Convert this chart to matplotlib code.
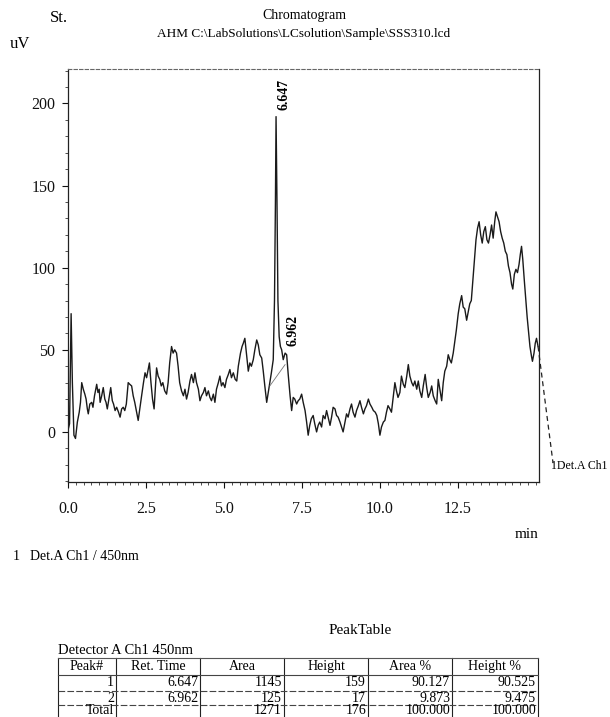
import numpy as np
import matplotlib
matplotlib.use("Agg")
import matplotlib.pyplot as plt
from matplotlib.lines import Line2D
from matplotlib.ticker import MultipleLocator

# ---------------- data ----------------
time_min = [0.00, 0.05, 0.10, 0.14, 0.19, 0.24, 0.30, 0.36, 0.40, 0.44, 0.49, 0.54, 0.58, 0.62, 0.65,
            0.70, 0.76, 0.80, 0.85, 0.92, 0.96, 1.00, 1.03, 1.08, 1.13, 1.18, 1.22, 1.26, 1.31, 1.37,
            1.42, 1.46, 1.51, 1.56, 1.62, 1.67, 1.72, 1.77, 1.82, 1.87, 1.93, 1.98, 2.04, 2.09, 2.14,
            2.20, 2.25, 2.30, 2.36, 2.42, 2.47, 2.52, 2.57, 2.61, 2.66, 2.71, 2.76, 2.80, 2.84, 2.89,
            2.94, 2.99, 3.04, 3.10, 3.16, 3.21, 3.26, 3.32, 3.37, 3.42, 3.48, 3.53, 3.58, 3.64, 3.70,
            3.75, 3.80, 3.85, 3.91, 3.96, 4.02, 4.07, 4.12, 4.18, 4.23, 4.28, 4.34, 4.39, 4.44, 4.50,
            4.55, 4.60, 4.66, 4.71, 4.76, 4.82, 4.87, 4.92, 4.97, 5.03, 5.08, 5.14, 5.19, 5.24, 5.30,
            5.36, 5.41, 5.46, 5.53, 5.58, 5.62, 5.67, 5.72, 5.78, 5.83, 5.88, 5.94, 5.99, 6.05, 6.10,
            6.15, 6.21, 6.26, 6.31, 6.37, 6.42, 6.47, 6.52, 6.58, 6.62, 6.65, 6.67, 6.70, 6.73, 6.77,
            6.81, 6.85, 6.90, 6.96, 7.01, 7.06, 7.12, 7.17, 7.22, 7.27, 7.33, 7.38, 7.43, 7.49, 7.54,
            7.60, 7.65, 7.70, 7.75, 7.80, 7.86, 7.91, 7.97, 8.02, 8.07, 8.13, 8.18, 8.24, 8.29, 8.34,
            8.40, 8.45, 8.50, 8.56, 8.61, 8.66, 8.72, 8.77, 8.82, 8.88, 8.93, 8.98, 9.04, 9.09, 9.14,
            9.20, 9.25, 9.31, 9.36, 9.41, 9.47, 9.52, 9.57, 9.63, 9.68, 9.74, 9.79, 9.85, 9.90, 9.95,
            10.00, 10.05, 10.11, 10.16, 10.21, 10.26, 10.32, 10.37, 10.42, 10.48, 10.53, 10.58, 10.64, 10.69, 10.75,
            10.80, 10.86, 10.91, 10.96, 11.02, 11.07, 11.12, 11.18, 11.23, 11.28, 11.34, 11.39, 11.45, 11.50, 11.55,
            11.61, 11.66, 11.71, 11.77, 11.82, 11.87, 11.93, 11.98, 12.03, 12.08, 12.14, 12.19, 12.24, 12.29, 12.35,
            12.40, 12.45, 12.51, 12.56, 12.62, 12.67, 12.72, 12.78, 12.83, 12.88, 12.93, 12.99, 13.04, 13.08, 13.13,
            13.18, 13.23, 13.28, 13.33, 13.38, 13.43, 13.48, 13.53, 13.58, 13.63, 13.68, 13.72, 13.77, 13.82, 13.87,
            13.92, 13.97, 14.02, 14.07, 14.12, 14.17, 14.22, 14.26, 14.31, 14.36, 14.41, 14.46, 14.50, 14.54, 14.58,
            14.63, 14.68, 14.72, 14.77, 14.81, 14.86, 14.89, 14.94, 14.98, 15.02, 15.07]
signal_uv = [1, 5, 72, 30, -2, -4, 6, 12, 18, 30, 26, 23, 20, 14, 11,
             17, 18, 15, 22, 29, 24, 26, 18, 22, 27, 20, 18, 14, 20, 27,
             19, 17, 13, 15, 12, 9, 14, 15, 13, 17, 30, 29, 28, 22, 18,
             12, 7, 14, 22, 30, 36, 33, 38, 42, 30, 20, 14, 26, 39, 34,
             32, 28, 30, 25, 23, 30, 42, 52, 48, 50, 48, 40, 30, 25, 22,
             26, 20, 24, 31, 35, 30, 36, 30, 26, 19, 22, 24, 27, 22, 25,
             21, 19, 23, 18, 26, 30, 34, 28, 30, 27, 32, 35, 38, 33, 36,
             32, 31, 40, 48, 52, 54, 57, 48, 37, 42, 40, 44, 50, 56, 53,
             47, 45, 37, 28, 18, 24, 30, 36, 44, 80, 140, 192, 140, 80, 58,
             52, 50, 44, 48, 47, 35, 22, 13, 21, 20, 17, 19, 20, 23, 18,
             13, 6, -2, 4, 8, 10, 5, 0, 4, 6, 3, 10, 8, 13, 9,
             4, 9, 15, 14, 10, 9, 6, 3, 0, 6, 11, 9, 14, 17, 12,
             9, 13, 16, 19, 15, 11, 14, 16, 20, 17, 15, 13, 12, 10, 5,
             -2, 3, 6, 7, 12, 16, 14, 12, 20, 30, 25, 21, 24, 34, 29,
             27, 34, 41, 34, 30, 28, 31, 26, 31, 25, 21, 28, 35, 27, 21,
             24, 28, 22, 19, 17, 32, 25, 19, 30, 37, 40, 47, 44, 42, 48,
             55, 62, 72, 78, 83, 76, 75, 68, 73, 78, 80, 95, 108, 117, 124,
             128, 120, 115, 122, 125, 117, 115, 120, 126, 118, 128, 134, 131, 128, 122,
             118, 115, 110, 108, 101, 97, 90, 87, 96, 99, 97, 102, 108, 113, 105,
             92, 80, 70, 60, 52, 46, 43, 48, 54, 57, 52]

# trace continuation past the end of the window (dashed)
tail_time = [15.07, 15.55]
tail_uv = [52, -19]

# integration baseline under peak 1
baseline_time = [6.47, 6.96]
baseline_uv = [28, 41]

peak_no = ["1", "2"]
ret_time = [6.647, 6.962]
peak_area = [1145, 125]
peak_height = [159, 17]
area_pct = [90.127, 9.873]
height_pct = [90.525, 9.475]
total_area = 1271
total_height = 176
total_pct = 100.000

x_ticks = [0.0, 2.5, 5.0, 7.5, 10.0, 12.5]
y_ticks = [0, 50, 100, 150, 200]

# ---------------- figure ----------------
W, H = 610, 717
plt.rcParams['font.family'] = ['Liberation Serif', 'DejaVu Serif']
fig = plt.figure(figsize=(W / 100, H / 100), dpi=100)


def fx(px):
    return px / W


def fy(py):
    return 1 - py / H


ax_l, ax_r, ax_t, ax_b = 68, 539, 69, 482
ax = fig.add_axes([fx(ax_l), fy(ax_b), (ax_r - ax_l) / W, (ax_b - ax_t) / H])

ax.plot(time_min, signal_uv, color='#1a1a1a', lw=1.0)
ax.plot(tail_time, tail_uv, color='#222222', lw=0.9, ls=(0, (4, 3)), clip_on=False)
ax.plot(baseline_time, baseline_uv, color='#777777', lw=0.6)

ax.set_xlim(0, 15.1)
ax.set_ylim(-30.5, 221)

ax.xaxis.set_major_locator(MultipleLocator(2.5))
ax.xaxis.set_minor_locator(MultipleLocator(0.25))
ax.yaxis.set_major_locator(MultipleLocator(50))
ax.yaxis.set_minor_locator(MultipleLocator(10))
ax.set_xticks(x_ticks)
ax.set_xticklabels([f"{v:.1f}" for v in x_ticks])
ax.set_yticks(y_ticks)
ax.set_yticklabels([str(v) for v in y_ticks])
ax.tick_params(axis='both', which='major', direction='out', length=4, width=0.8,
               labelsize=11.5, colors='#111111')
ax.tick_params(axis='both', which='minor', direction='out', length=2, width=0.6, colors='#333333')
ax.tick_params(axis='x', which='major', pad=10)
ax.tick_params(axis='y', which='major', pad=5)

ax.spines['top'].set_linestyle((0, (3, 2)))
ax.spines['top'].set_color('#666666')
ax.spines['top'].set_linewidth(0.8)
for s in ['left', 'right', 'bottom']:
    ax.spines[s].set_color('#222222')
    ax.spines[s].set_linewidth(0.9)

# peak labels
tarr = np.array(time_min)
varr = np.array(signal_uv)
for rt in ret_time:
    m = (tarr > rt - 0.05) & (tarr < rt + 0.05)
    top = varr[m].max()
    ax.annotate(f"{rt:.3f}", xy=(rt, top), xytext=(6, 5), textcoords='offset points',
                rotation=90, ha='center', va='bottom', fontsize=10, fontweight='bold')

# texts
fig.text(fx(50), fy(18), "St.", fontsize=12, ha='left', va='center')
fig.text(fx(304), fy(16), "Chromatogram", fontsize=10, ha='center', va='center')
fig.text(fx(304), fy(34), "AHM C:\\LabSolutions\\LCsolution\\Sample\\SSS310.lcd",
         fontsize=9.5, ha='center', va='center')
fig.text(fx(10), fy(44), "uV", fontsize=12, ha='left', va='center')
fig.text(fx(539), fy(535), "min", fontsize=11, ha='right', va='center')
fig.text(fx(551), fy(466), "1Det.A Ch1", fontsize=8.5, ha='left', va='center')
fig.text(fx(13), fy(557), "1", fontsize=10, ha='left', va='center')
fig.text(fx(30), fy(557), "Det.A Ch1 / 450nm", fontsize=10, ha='left', va='center')

# peak table
fig.text(fx(360), fy(630), "PeakTable", fontsize=11, ha='center', va='center')
fig.text(fx(58), fy(650), "Detector A Ch1 450nm", fontsize=10.5, ha='left', va='center')

col_edges = [58, 116, 200, 284, 368, 452, 538]
row_edges = [658, 675, 691, 705, 718]
for px in col_edges:
    fig.add_artist(Line2D([fx(px), fx(px)], [fy(row_edges[0]), fy(row_edges[-1])],
                          color='#222222', lw=0.8))
for i, py in enumerate(row_edges):
    fig.add_artist(Line2D([fx(col_edges[0]), fx(col_edges[-1])], [fy(py), fy(py)],
                          color='#444444' if i else '#555555', lw=0.8,
                          ls='-' if i in (0, 1) else (0, (6, 2))))

headers = ["Peak#", "Ret. Time", "Area", "Height", "Area %", "Height %"]
rows = [[peak_no[i], f"{ret_time[i]:.3f}", f"{peak_area[i]}", f"{peak_height[i]}",
         f"{area_pct[i]:.3f}", f"{height_pct[i]:.3f}"] for i in range(len(peak_no))]
rows.append(["Total", "", f"{total_area}", f"{total_height}", f"{total_pct:.3f}", f"{total_pct:.3f}"])
row_centers = [683, 698, 710.5]

for j, h in enumerate(headers):
    cx = (col_edges[j] + col_edges[j + 1]) / 2
    fig.text(fx(cx), fy(666.5), h, fontsize=10, ha='center', va='center')
for i, r in enumerate(rows):
    for j, val in enumerate(r):
        if val:
            fig.text(fx(col_edges[j + 1] - 2), fy(row_centers[i]), val, fontsize=10,
                     ha='right', va='center')

fig.savefig("out.png", dpi=100)
